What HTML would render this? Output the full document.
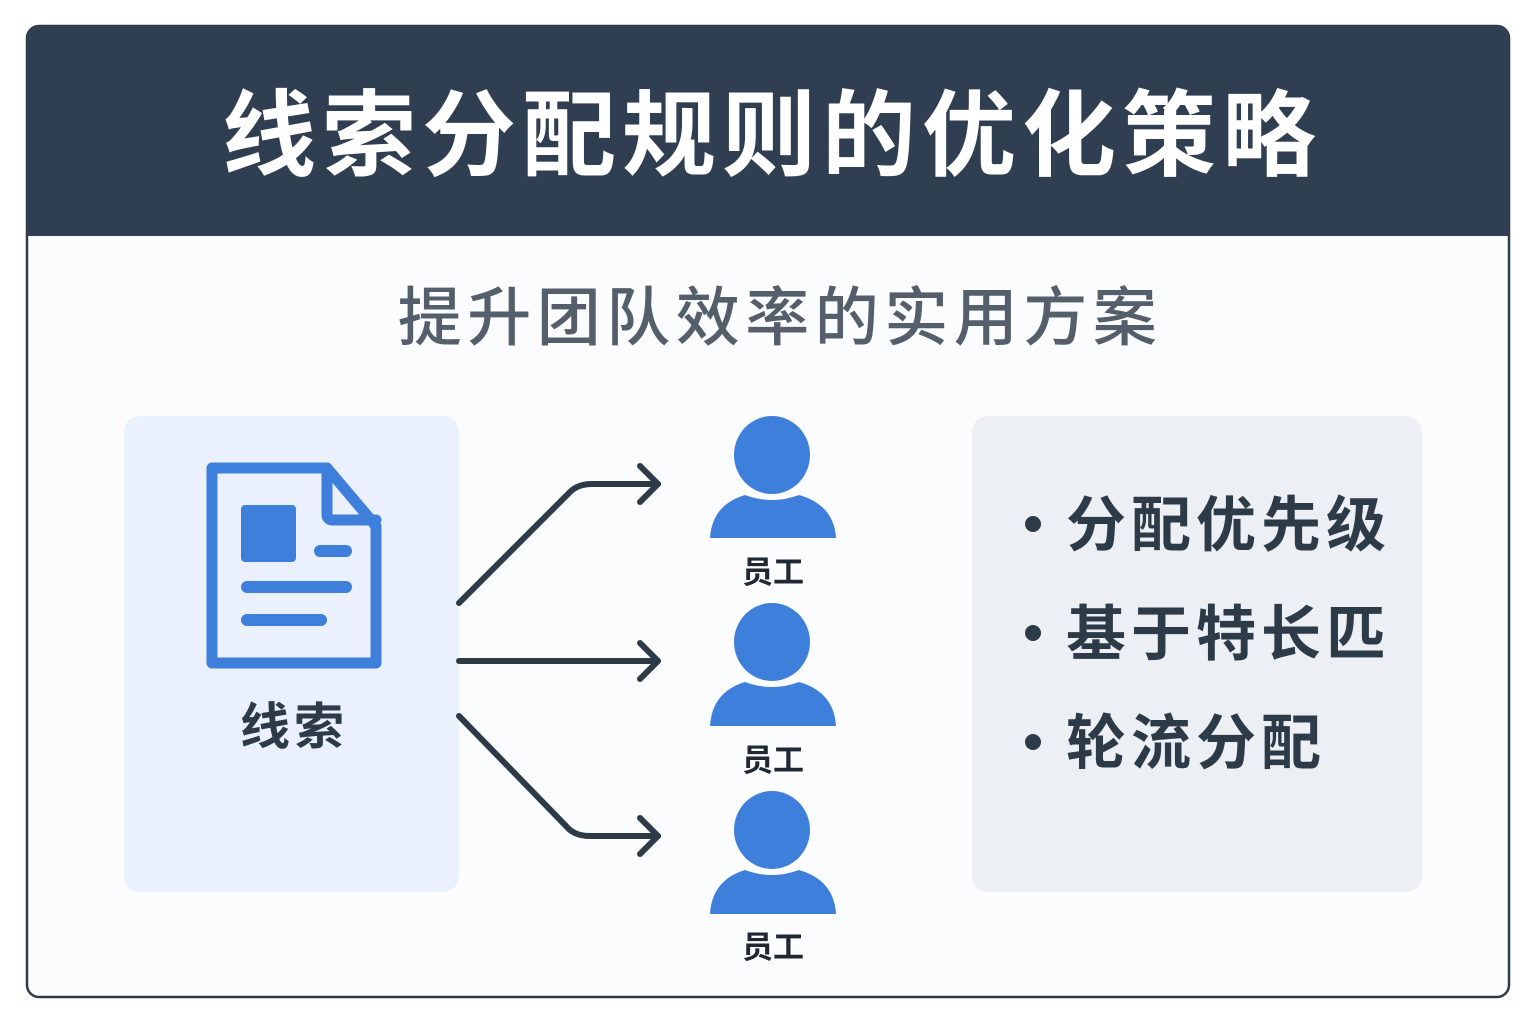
<!DOCTYPE html>
<html><head><meta charset="utf-8"><style>
html,body{margin:0;padding:0;background:#fff;}
svg{display:block}
text{font-family:"Liberation Sans","Noto Sans CJK SC",sans-serif;}
</style></head><body>
<svg width="1536" height="1024" viewBox="0 0 1536 1024" xmlns="http://www.w3.org/2000/svg">
<rect width="1536" height="1024" fill="#fff"/>
<rect x="27" y="26" width="1482" height="971" rx="12" fill="#fbfcfd" stroke="#2d3a48" stroke-width="2.5"/>
<path d="M39 26 H1497 a12 12 0 0 1 12 12 V236 H27 V38 a12 12 0 0 1 12 -12Z" fill="#2f3e50"/>
<text x="772" y="168" text-anchor="middle" font-size="94" font-weight="bold" fill="#fff" letter-spacing="6">线索分配规则的优化策略</text>
<text x="780" y="340" text-anchor="middle" font-size="64" font-weight="500" fill="#555f6b" letter-spacing="5.5">提升团队效率的实用方案</text>
<rect x="124" y="416" width="335" height="476" rx="16" fill="#eaf1fc"/>
<rect x="972" y="416" width="450" height="476" rx="16" fill="#eceff3"/>
<g fill="none" stroke="#3f7fdc" stroke-width="11" stroke-linejoin="round" stroke-linecap="round">
<path d="M212 468 H327 L376 526 V663 H212 Z"/>
<path d="M327 468 V515 a5 5 0 0 0 5 5 H376"/>
</g>
<g fill="#3f7fdc">
<rect x="241" y="505" width="55" height="57" rx="4"/>
<rect x="314" y="545" width="38" height="12" rx="6"/>
<rect x="241" y="581" width="111" height="12" rx="6"/>
<rect x="241" y="614" width="86" height="12" rx="6"/>
</g>
<text x="294" y="744" text-anchor="middle" font-size="50" font-weight="bold" fill="#2d3a48" letter-spacing="4">线索</text>
<g fill="none" stroke="#2d3a48" stroke-width="6" stroke-linecap="round" stroke-linejoin="round">
<path d="M459 603 L570 492 Q578 484 592 484 H658"/>
<path d="M640 466 L658 484 L640 502"/>
<path d="M459 661 H658"/>
<path d="M640 643 L658 661 L640 679"/>
<path d="M459 716 L566 826 Q574 836 590 836 H658"/>
<path d="M640 818 L658 836 L640 854"/>
</g>
<g fill="#3f7fdc">
<ellipse cx="772" cy="455" rx="38" ry="39"/>
<path d="M710 538 Q712 505 745 495 Q772 505 799 495 Q834 505 836 538 Z"/>
<ellipse cx="772" cy="642" rx="38" ry="39"/>
<path d="M710 726 Q712 692 745 682 Q772 692 799 682 Q834 692 836 726 Z"/>
<ellipse cx="772" cy="830" rx="38" ry="39"/>
<path d="M710 914 Q712 880 745 870 Q772 880 799 870 Q834 880 836 914 Z"/>
</g>
<g font-size="31" font-weight="bold" fill="#1f2833" text-anchor="middle">
<text x="773" y="583">员工</text>
<text x="773" y="771">员工</text>
<text x="773" y="958">员工</text>
</g>
<g fill="#2d3a48">
<circle cx="1033" cy="524" r="8"/>
<circle cx="1033" cy="633" r="8"/>
<circle cx="1033" cy="742" r="8"/>
</g>
<g font-size="60" font-weight="bold" fill="#2d3a48" letter-spacing="5">
<text x="1066" y="546">分配优先级</text>
<text x="1066" y="655">基于特长匹</text>
<text x="1066" y="764">轮流分配</text>
</g>
</svg>
</body></html>
